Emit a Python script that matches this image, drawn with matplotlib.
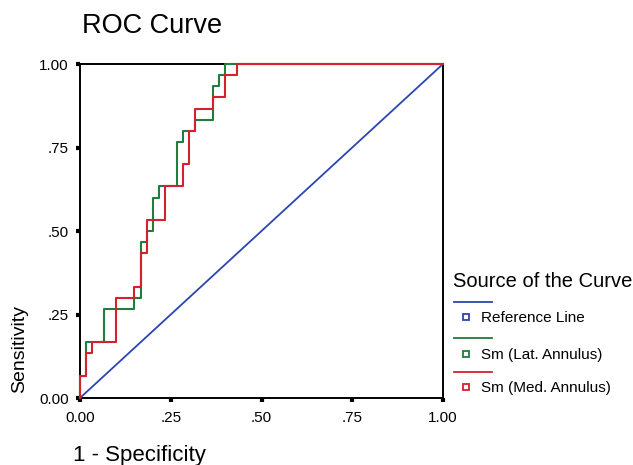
import matplotlib
matplotlib.use("Agg")
import matplotlib.pyplot as plt
from matplotlib.lines import Line2D

plt.rcParams['font.family'] = ['Liberation Sans', 'DejaVu Sans']

# ---- data ----
title = "ROC Curve"
x_label = "1 - Specificity"
y_label = "Sensitivity"
tick_values = [0.0, 0.25, 0.5, 0.75, 1.0]
tick_labels = ["0.00", ".25", ".50", ".75", "1.00"]
legend_title = "Source of the Curve"
series_names = ["Reference Line", "Sm (Lat. Annulus)", "Sm (Med. Annulus)"]

ref_fpr = [0.0, 1.0]
ref_tpr = [0.0, 1.0]

lat_fpr = [0.0, 0.0, 0.0167, 0.0167, 0.0667, 0.0667, 0.15, 0.15, 0.1667, 0.1667,
           0.1833, 0.1833, 0.2, 0.2, 0.2167, 0.2167, 0.2667, 0.2667, 0.2833, 0.2833,
           0.3167, 0.3167, 0.3667, 0.3667, 0.3833, 0.3833, 0.4, 0.4, 1.0]
lat_tpr = [0.0, 0.0667, 0.0667, 0.1667, 0.1667, 0.2667, 0.2667, 0.3, 0.3, 0.4667,
           0.4667, 0.5, 0.5, 0.6, 0.6, 0.6333, 0.6333, 0.7667, 0.7667, 0.8,
           0.8, 0.8333, 0.8333, 0.9333, 0.9333, 0.9667, 0.9667, 1.0, 1.0]

med_fpr = [0.0, 0.0, 0.0167, 0.0167, 0.0333, 0.0333, 0.1, 0.1, 0.15, 0.15,
           0.1667, 0.1667, 0.1833, 0.1833, 0.2333, 0.2333, 0.2833, 0.2833, 0.3, 0.3,
           0.3167, 0.3167, 0.3667, 0.3667, 0.4, 0.4, 0.4333, 0.4333, 1.0]
med_tpr = [0.0, 0.0667, 0.0667, 0.1333, 0.1333, 0.1667, 0.1667, 0.3, 0.3, 0.3333,
           0.3333, 0.4333, 0.4333, 0.5333, 0.5333, 0.6333, 0.6333, 0.7, 0.7, 0.8,
           0.8, 0.8667, 0.8667, 0.9, 0.9, 0.9667, 0.9667, 1.0, 1.0]

colors = ["#2a46b0", "#1f7d3e", "#d3212e"]

# ---- figure ----
W, H = 633, 465
fig = plt.figure(figsize=(W / 100, H / 100), dpi=100)

def fx(px):
    return px / W

def fy(py):
    return 1 - py / H

ax_l, ax_r, ax_t, ax_b = 80, 443, 64, 398
ax = fig.add_axes([fx(ax_l), fy(ax_b), (ax_r - ax_l) / W, (ax_b - ax_t) / H])

ax.plot(ref_fpr, ref_tpr, color=colors[0], lw=1.3, clip_on=False, zorder=3)
ax.plot(lat_fpr, lat_tpr, color=colors[1], lw=1.5, clip_on=False, zorder=4)
ax.plot(med_fpr, med_tpr, color=colors[2], lw=1.5, clip_on=False, zorder=5)

ax.set_xlim(0, 1)
ax.set_ylim(0, 1)
for s in ax.spines.values():
    s.set_color("black")
    s.set_linewidth(1.4)
ax.set_xticks(tick_values)
ax.set_xticklabels(tick_labels)
ax.set_yticks(tick_values)
ax.set_yticklabels(tick_labels)
ax.tick_params(direction="out", length=3, width=3, labelsize=11, colors="black", pad=5)
ax.tick_params(axis="x", pad=6)

fig.text(fx(82), fy(33), title, fontsize=19.5, ha="left", va="baseline")
fig.text(fx(73), fy(461), x_label, fontsize=16, ha="left", va="baseline")
fig.text(fx(20), fy(393), y_label, fontsize=14, rotation=90, ha="center", va="bottom")

# ---- legend ----
fig.text(fx(453), fy(287), legend_title, fontsize=14.5, ha="left", va="baseline")
line_y = [302, 338, 372]
mark_y = [317, 354, 387]
for name, c, ly, my in zip(series_names, colors, line_y, mark_y):
    fig.add_artist(Line2D([fx(454), fx(492)], [fy(ly), fy(ly)], color=c, lw=1.3,
                          transform=fig.transFigure))
    fig.add_artist(Line2D([fx(466)], [fy(my)], marker="s", markersize=4.5,
                          markerfacecolor="white", markeredgecolor=c, markeredgewidth=1.3,
                          linestyle="none", transform=fig.transFigure))
    fig.text(fx(481), fy(my + 5), name, fontsize=11, ha="left", va="baseline")

fig.savefig("out.png", dpi=100)
